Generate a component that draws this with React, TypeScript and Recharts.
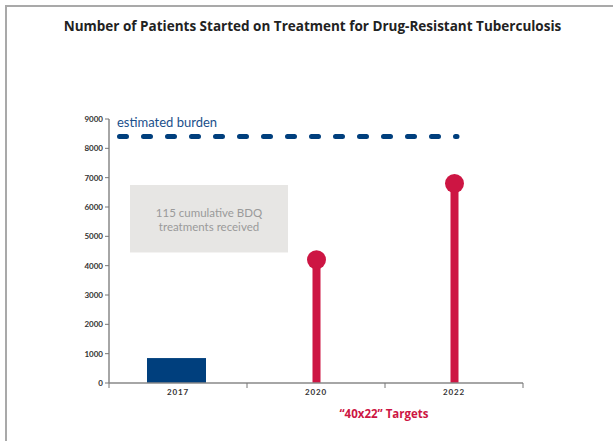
import React from "react";
import {
  ComposedChart,
  Bar,
  XAxis,
  YAxis,
  ReferenceLine,
  ReferenceArea,
} from "recharts";

const categories = ["2017", "2020", "2022"];
const actualValues: (number | null)[] = [850, null, null];
const targetValues: (number | null)[] = [null, 4200, 6800];
const yTicks = [0, 1000, 2000, 3000, 4000, 5000, 6000, 7000, 8000, 9000];
const burden = 8400;
const boxRange = [4450, 6750];

const data = categories.map((c, i) => ({
  year: c,
  actual: actualValues[i],
  target: targetValues[i],
}));

const NAVY = "#003f7d";
const CRIMSON = "#cd1543";
const FONT = "Lato, 'Open Sans', sans-serif";
const FONT2 = "'Open Sans', Lato, sans-serif";

const W = 613;
const H = 441;
const M = { top: 119, right: 90, bottom: 28, left: 49 };
const HALF_BAND = (W - M.left - 60 - M.right) / 3 / 2;

const XTick = (props: any) => {
  const { x, y, payload, index } = props;
  return (
    <g>
      <line x1={x + HALF_BAND} y1={y - 8} x2={x + HALF_BAND} y2={y - 3} stroke="#777" strokeWidth={1} />
      {index === 0 && (
        <line x1={x - HALF_BAND} y1={y - 8} x2={x - HALF_BAND} y2={y - 3} stroke="#777" strokeWidth={1} />
      )}
      <text
        x={x}
        y={y + 4}
        textAnchor="middle"
        fontSize={8}
        fontFamily={FONT}
        fontWeight={700}
        fill="#333"
        letterSpacing={0.8}
      >
        {payload.value}
      </text>
    </g>
  );
};

const ActualBar = (props: any) => {
  const { x, y, width, height } = props;
  if (!height) return null;
  return <rect x={x - 2} y={y} width={width} height={height} fill={NAVY} />;
};

const Lollipop = (props: any) => {
  const { x, y, width, height, payload } = props;
  if (payload.target == null) return null;
  const cx = x + width / 2;
  return (
    <g>
      <rect x={cx - 4} y={y} width={8} height={height} fill={CRIMSON} />
      <circle cx={cx} cy={y} r={9.5} fill={CRIMSON} />
    </g>
  );
};

const BurdenLine = (props: any) => {
  const { x1, y1, x2 } = props;
  return (
    <g>
      <line
        x1={x1 + 10.5}
        y1={y1}
        x2={x2 - 66}
        y2={y1}
        stroke={NAVY}
        strokeWidth={5}
        strokeDasharray="7 17"
        strokeLinecap="round"
      />
      <text x={x1 + 8} y={y1 - 10} fontSize={13} fontFamily={FONT} fill="#1a4f8b">
        estimated burden
      </text>
    </g>
  );
};

const NoteBox = (props: any) => {
  const { x, y, height } = props;
  const bx = x + 21;
  const bw = 158;
  return (
    <g>
      <rect x={bx} y={y} width={bw} height={height} fill="#e7e6e4" />
      <text x={bx + bw / 2} y={y + 32} textAnchor="middle" fontSize={11.5} fontFamily={FONT} fill="#9a9a9a">
        115 cumulative BDQ
      </text>
      <text x={bx + bw / 2} y={y + 46} textAnchor="middle" fontSize={11.5} fontFamily={FONT} fill="#9a9a9a">
        treatments received
      </text>
    </g>
  );
};

export default function App() {
  return (
    <div style={{ position: "absolute", left: 0, top: 0, width: W, height: H, background: "#fff", overflow: "hidden" }}>
      <div
        style={{
          position: "absolute",
          left: 5,
          top: 5,
          width: W,
          height: H,
          borderTop: "2px solid #a9a9a9",
          borderLeft: "2px solid #a9a9a9",
        }}
      />
      <div
        style={{
          position: "absolute",
          left: 0,
          top: 17,
          width: 625,
          textAlign: "center",
          fontFamily: FONT2,
          fontWeight: 700,
          fontSize: 13.5,
          color: "#222",
          whiteSpace: "nowrap",
        }}
      >
        Number of Patients Started on Treatment for Drug-Resistant Tuberculosis
      </div>
      <div style={{ position: "absolute", left: 0, top: 0 }}>
        <ComposedChart width={W} height={H} data={data} margin={M} barCategoryGap={0}>
          <XAxis
            dataKey="year"
            tickLine={false}
            axisLine={{ stroke: "#888", strokeWidth: 1.5 }}
            tick={<XTick />}
            height={30}
            interval={0}
          />
          <YAxis
            domain={[0, 9000]}
            ticks={yTicks}
            interval={0}
            width={60}
            tickSize={4}
            tickLine={{ stroke: "#777" }}
            axisLine={{ stroke: "#888", strokeWidth: 1.5 }}
            tick={{ fontSize: 8, fontFamily: FONT, fontWeight: 700, fill: "#333" }}
          />
          <ReferenceArea
            x1="2017"
            x2="2017"
            y1={boxRange[0]}
            y2={boxRange[1]}
            shape={<NoteBox />}
            ifOverflow="visible"
          />
          <ReferenceLine y={burden} shape={<BurdenLine />} ifOverflow="visible" />
          <Bar dataKey="actual" stackId="s" fill={NAVY} barSize={59} shape={<ActualBar />} isAnimationActive={false} />
          <Bar dataKey="target" stackId="s" shape={<Lollipop />} isAnimationActive={false} />
        </ComposedChart>
      </div>
      <div
        style={{
          position: "absolute",
          left: 284,
          top: 406,
          width: 200,
          textAlign: "center",
          fontFamily: FONT2,
          fontWeight: 700,
          fontSize: 11.5,
          color: CRIMSON,
        }}
      >
        “40x22” Targets
      </div>
    </div>
  );
}
